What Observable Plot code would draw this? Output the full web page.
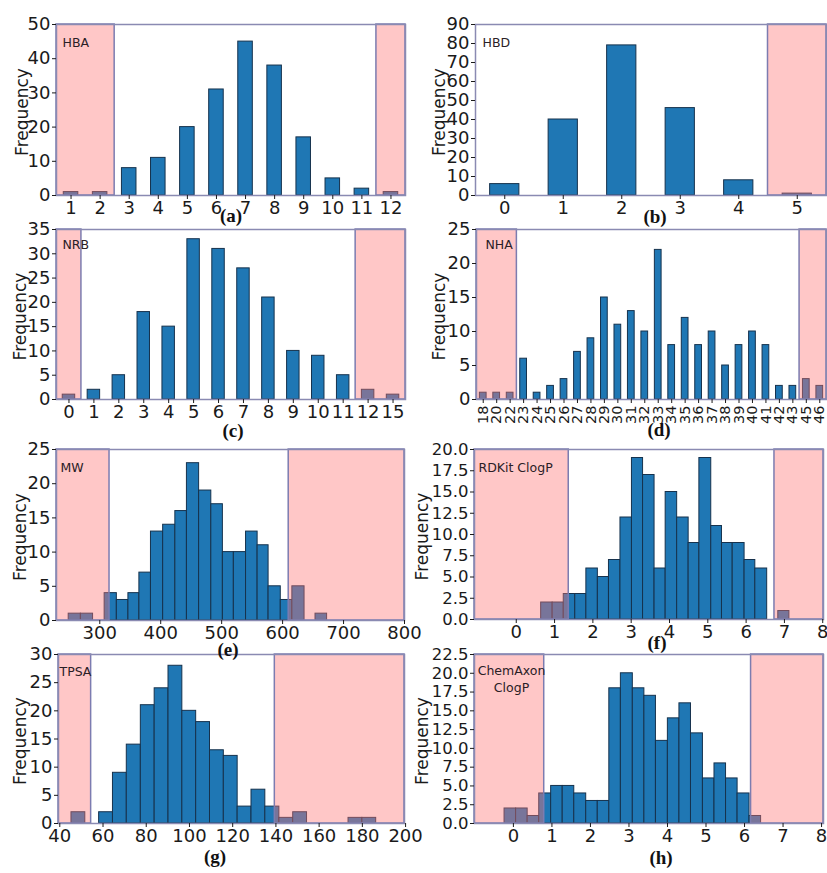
<!DOCTYPE html>
<html>
<head>
<meta charset="utf-8">
<script src="https://cdn.jsdelivr.net/npm/d3@7"></script>
<script src="https://cdn.jsdelivr.net/npm/@observablehq/plot@0.6"></script>
<style>
  body { margin: 0; background: #fff; }
  #root { position: relative; width: 827px; height: 873px; overflow: hidden; background: #fff; }
  .panel { position: absolute; }
  .letter { position: absolute; font-family: "Liberation Serif", "Times New Roman", serif; font-weight: bold;
            font-size: 19px; color: #111; transform: translate(-50%, -50%); white-space: nowrap; }
</style>
</head>
<body>
<div id="root"></div>
<script>
// ---------------- DATA ----------------
// (a) HBA
const hbaCats = ["1","2","3","4","5","6","7","8","9","10","11","12"];
const hbaCounts = [1,1,8,11,20,31,45,38,17,5,2,1];
const hbaOutside = [["1","2"],["12","12"]];
const hbaYTicks = [0,10,20,30,40,50];

// (b) HBD
const hbdCats = ["0","1","2","3","4","5"];
const hbdCounts = [6,40,79,46,8,1];
const hbdOutside = [["5","5"]];
const hbdYTicks = [0,10,20,30,40,50,60,70,80,90];

// (c) NRB
const nrbCats = ["0","1","2","3","4","5","6","7","8","9","10","11","12","15"];
const nrbCounts = [1,2,5,18,15,33,31,27,21,10,9,5,2,1];
const nrbOutside = [["0","0"],["12","15"]];
const nrbYTicks = [0,5,10,15,20,25,30,35];

// (d) NHA
const nhaCats = ["18","20","22","23","24","25","26","27","28","29","30","31","32","33","34","35","36","37","38","39","40","41","42","43","45","46"];
const nhaCounts = [1,1,1,6,1,2,3,7,9,15,11,13,10,22,8,12,8,10,5,8,10,8,2,2,3,2];
const nhaOutside = [["18","22"],["45","46"]];
const nhaYTicks = [0,5,10,15,20,25];

// (e) MW histogram
const mwEdges = [249,269,289,308,328,347,365,384,404,424,443,463,483,502,520,540,559,577,597,616,636,654,673];
const mwCounts = [1,1,0,4,3,4,7,13,14,16,23,19,17,10,10,13,11,5,3,5,0,1];
const mwRange = [229, 800];
const mwLimits = [316, 610];
const mwXTicks = [300,400,500,600,700,800];
const mwYTicks = [0,5,10,15,20,25];

// (f) RDKit ClogP histogram
const rdkEdges = [0.65,0.95,1.24,1.54,1.83,2.13,2.42,2.72,3.02,3.31,3.61,3.90,4.20,4.50,4.78,5.09,5.37,5.65,5.96,6.24,6.55,6.84,7.13];
const rdkCounts = [2,2,3,3,6,5,7,12,19,17,6,15,12,9,19,11,9,9,7,6,0,1];
const rdkRange = [-1.09, 8.02];
const rdkLimits = [1.37, 6.74];
const rdkXTicks = [0,1,2,3,4,5,6,7,8];
const rdkYTicks = [0,2.5,5,7.5,10,12.5,15,17.5,20];

// (g) TPSA histogram
const tpsaEdges = [45.4,51.8,58.2,64.6,71.0,77.5,83.9,90.3,96.7,103.1,109.5,115.9,122.3,128.7,135.1,141.6,148.0,154.4,160.8,167.2,173.6,180.0,186.4];
const tpsaCounts = [2,0,2,9,14,21,24,28,20,18,13,12,3,6,3,1,2,0,0,0,1,1];
const tpsaRange = [39.4, 199.5];
const tpsaLimits = [54.5, 139.5];
const tpsaXTicks = [40,60,80,100,120,140,160,180,200];
const tpsaYTicks = [0,5,10,15,20,25,30];

// (h) ChemAxon ClogP histogram
const chemEdges = [-0.23,0.07,0.37,0.67,0.98,1.28,1.58,1.89,2.19,2.49,2.79,3.10,3.40,3.70,4.01,4.31,4.61,4.92,5.22,5.52,5.82,6.13,6.43];
const chemCounts = [2,2,1,4,5,5,4,3,3,18,20,18,17,11,14,16,12,6,8,6,4,1];
const chemRange = [-1.01, 8.05];
const chemLimits = [0.80, 6.17];
const chemXTicks = [0,1,2,3,4,5,6,7,8];
const chemYTicks = [0,2.5,5,7.5,10,12.5,15,17.5,20,22.5];

// ---------------- STYLE ----------------
const BAR = "#1f77b4", BAR_EDGE = "#16324d";
const SHADE = "#ff7474", SHADE_OP = 0.4, SHADE_EDGE = "#7c7cb0";
const FRAME = "#8a8ab2", INK = "#1a1a1a";
const FONT = "DejaVu Sans, sans-serif";

// ---------------- BUILDERS ----------------
function catBars(cats, counts) {
  return cats.map((c, i) => ({x1: i - 0.25, x2: i + 0.25, y: counts[i]}));
}
function catShades(cats, ranges) {
  return ranges.map(([a, b]) => ({x1: cats.indexOf(a) - 0.5, x2: cats.indexOf(b) + 0.5}));
}
function histBars(edges, counts) {
  return counts.map((v, i) => ({x1: edges[i], x2: edges[i + 1], y: v})).filter(d => d.y > 0);
}
function histShades(range, limits) {
  return [{x1: range[0], x2: limits[0]}, {x1: limits[1], x2: range[1]}];
}

function panel(o) {
  const ymax = o.yTicks[o.yTicks.length - 1];
  const marks = [
    Plot.rectY(o.bars, {x1: "x1", x2: "x2", y: "y", fill: BAR, stroke: BAR_EDGE, strokeWidth: 1, inset: 0}),
    Plot.rect(o.shades, {x1: "x1", x2: "x2", y1: 0, y2: ymax, fill: SHADE, fillOpacity: SHADE_OP,
                         stroke: SHADE_EDGE, strokeWidth: 1.5}),
    Plot.frame({stroke: FRAME, strokeWidth: 1.5}),
    Plot.axisX({ticks: o.xTicks, tickFormat: o.xFormat, tickSize: 4, tickPadding: 2, label: null,
                fontSize: o.xFont || 18, tickRotate: o.rotate || 0, stroke: INK, fill: INK}),
    Plot.axisY({ticks: o.yTicks, tickFormat: o.yFormat || (d => String(d)), tickSize: 4, tickPadding: 2,
                label: null, fontSize: o.yFont || 18, stroke: INK, fill: INK}),
    Plot.text(["Frequency"], {frameAnchor: "left", textAnchor: "middle", lineAnchor: "middle",
                              dx: o.labDx, dy: 2, rotate: -90, fontSize: 17, fill: INK}),
  ];
  o.names.forEach((n, k) => {
    marks.push(Plot.text([n], {frameAnchor: "top-left", dx: o.nameDx, dy: o.nameDy + k * 17,
      fontSize: 12.5, fill: "#2a2026", textAnchor: o.nameAnchorText || "start"}));
  });
  const svg = Plot.plot({
    width: o.w, height: o.h,
    marginLeft: o.ml, marginRight: o.mr, marginTop: o.mt, marginBottom: o.mb,
    x: {domain: o.xDomain},
    y: {domain: [0, ymax]},
    style: {fontFamily: FONT, fontSize: "18px", background: "transparent", overflow: "visible", color: INK},
    marks
  });
  const div = document.createElement("div");
  div.className = "panel";
  div.style.left = o.left + "px";
  div.style.top = o.top + "px";
  div.appendChild(svg);
  document.getElementById("root").appendChild(div);
}

function letter(t, x, y) {
  const s = document.createElement("div");
  s.className = "letter";
  s.textContent = t;
  s.style.left = x + "px";
  s.style.top = y + "px";
  document.getElementById("root").appendChild(s);
}

const idx = n => d3.range(n);
const fmt1 = d3.format(".1f");

// (a)
panel({left: 0, top: 0, w: 414, h: 225, ml: 56, mr: 9, mt: 24, mb: 30,
  xDomain: [-0.5, hbaCats.length - 0.5], xTicks: idx(hbaCats.length), xFormat: i => hbaCats[i],
  yTicks: hbaYTicks, bars: catBars(hbaCats, hbaCounts), shades: catShades(hbaCats, hbaOutside),
  labDx: -34, names: ["HBA"], nameDx: 6, nameDy: 14});
// (b)
panel({left: 414, top: 0, w: 413, h: 225, ml: 61, mr: 1, mt: 24, mb: 30,
  xDomain: [-0.5, hbdCats.length - 0.5], xTicks: idx(hbdCats.length), xFormat: i => hbdCats[i],
  yTicks: hbdYTicks, bars: catBars(hbdCats, hbdCounts), shades: catShades(hbdCats, hbdOutside),
  labDx: -36, names: ["HBD"], nameDx: 7, nameDy: 14});
// (c)
panel({left: 0, top: 205, w: 414, h: 225, ml: 56, mr: 9, mt: 24, mb: 31,
  xDomain: [-0.5, nrbCats.length - 0.5], xTicks: idx(nrbCats.length), xFormat: i => nrbCats[i],
  yTicks: nrbYTicks, bars: catBars(nrbCats, nrbCounts), shades: catShades(nrbCats, nrbOutside),
  labDx: -36, names: ["NRB"], nameDx: 6, nameDy: 11});
// (d)
panel({left: 414, top: 205, w: 413, h: 225, ml: 62, mr: 1, mt: 24, mb: 31,
  xDomain: [-0.5, nhaCats.length - 0.5], xTicks: idx(nhaCats.length), xFormat: i => nhaCats[i],
  xFont: 14.5, rotate: -90,
  yTicks: nhaYTicks, bars: catBars(nhaCats, nhaCounts), shades: catShades(nhaCats, nhaOutside),
  labDx: -37, names: ["NHA"], nameDx: 9, nameDy: 11});
// (e)
panel({left: 0, top: 425, w: 414, h: 225, ml: 56, mr: 10, mt: 24, mb: 30,
  xDomain: mwRange, xTicks: mwXTicks, xFormat: d => String(d),
  yTicks: mwYTicks, bars: histBars(mwEdges, mwCounts), shades: histShades(mwRange, mwLimits),
  labDx: -36, names: ["MW"], nameDx: 4, nameDy: 14});
// (f)
panel({left: 414, top: 425, w: 413, h: 225, ml: 60, mr: 4, mt: 24, mb: 31,
  xDomain: rdkRange, xTicks: rdkXTicks, xFormat: d => String(d),
  yTicks: rdkYTicks, yFormat: fmt1, yFont: 16.5, bars: histBars(rdkEdges, rdkCounts), shades: histShades(rdkRange, rdkLimits),
  labDx: -52, names: ["RDKit ClogP"], nameDx: 4, nameDy: 14});
// (g)
panel({left: 0, top: 630, w: 414, h: 225, ml: 58, mr: 10, mt: 24, mb: 32,
  xDomain: tpsaRange, xTicks: tpsaXTicks, xFormat: d => String(d),
  yTicks: tpsaYTicks, bars: histBars(tpsaEdges, tpsaCounts), shades: histShades(tpsaRange, tpsaLimits),
  labDx: -38, names: ["TPSA"], nameDx: 1, nameDy: 13});
// (h)
panel({left: 414, top: 630, w: 413, h: 225, ml: 60, mr: 4, mt: 24, mb: 32,
  xDomain: chemRange, xTicks: chemXTicks, xFormat: d => String(d),
  yTicks: chemYTicks, yFormat: fmt1, yFont: 16.5, bars: histBars(chemEdges, chemCounts), shades: histShades(chemRange, chemLimits),
  labDx: -52, names: ["ChemAxon", "ClogP"], nameDx: 37, nameDy: 12, nameAnchorText: "middle"});

letter("(a)", 231, 216);
letter("(b)", 655, 217);
letter("(c)", 233, 431);
letter("(d)", 659, 430);
letter("(e)", 228, 650);
letter("(f)", 657, 643);
letter("(g)", 215, 857);
letter("(h)", 661, 858);
</script>
</body>
</html>
